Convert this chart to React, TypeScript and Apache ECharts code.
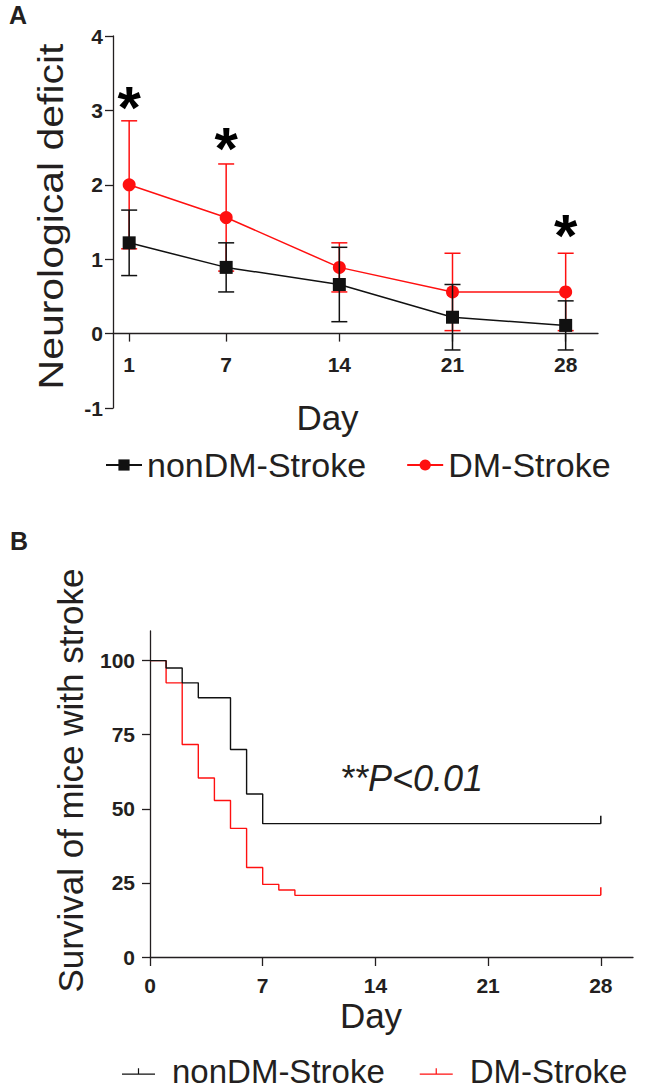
import React, { useEffect, useRef } from "react";
import * as echarts from "echarts";

// ---------- Panel A data ----------
const days = [1, 7, 14, 21, 28];
const nonDMMean = [1.22, 0.89, 0.66, 0.22, 0.11];
const nonDMSD = [0.44, 0.33, 0.5, 0.44, 0.33];
const dmMean = [2.0, 1.56, 0.89, 0.56, 0.56];
const dmSD = [0.86, 0.72, 0.33, 0.52, 0.52];
const starPoints: [number, number][] = [
  [1, 3.15],
  [7, 2.59],
  [28, 1.43],
];
const xTicksA = [1, 7, 14, 21, 28];

// ---------- Panel B data ----------
const nonDMSurvDays = [0, 1, 2, 3, 5, 6, 7, 28];
const nonDMSurv = [100, 97.5, 92.5, 87.5, 70, 55, 45, 45];
const dmSurvDays = [0, 1, 2, 3, 4, 5, 6, 7, 8, 9, 28];
const dmSurv = [100, 92.5, 71.7, 60.4, 52.8, 43.4, 30.2, 24.5, 22.6, 20.8, 20.8];
const xTicksB = [0, 7, 14, 21, 28];
const yTicksB = [0, 25, 50, 75, 100];

const seriesNames = ["nonDM-Stroke", "DM-Stroke"];
const FONT = '"Liberation Sans", Arial, Helvetica, sans-serif';
const TXT = "#231f20";
const BLACK = "#111111";
const RED = "#ff1010";

function errData(mean: number[], sd: number[]) {
  return days.map((d, i) => [d, mean[i] - sd[i], mean[i] + sd[i]]);
}

function errRender(color: string) {
  return (params: any, api: any) => {
    const x = api.value(0);
    const lo = api.coord([x, api.value(1)]);
    const hi = api.coord([x, api.value(2)]);
    const hw = 8;
    const st = { stroke: color, lineWidth: 1.5 };
    return {
      type: "group",
      children: [
        { type: "line", shape: { x1: hi[0], y1: hi[1], x2: lo[0], y2: lo[1] }, style: st },
        { type: "line", shape: { x1: hi[0] - hw, y1: hi[1], x2: hi[0] + hw, y2: hi[1] }, style: st },
        { type: "line", shape: { x1: lo[0] - hw, y1: lo[1], x2: lo[0] + hw, y2: lo[1] }, style: st },
      ],
    };
  };
}

function survData(xs: number[], ys: number[], color: string) {
  return xs.map((x, i) =>
    i === xs.length - 1
      ? { value: [x, ys[i]], symbol: "rect", symbolSize: [1.5, 8], symbolOffset: [0, -4], itemStyle: { color } }
      : [x, ys[i]]
  );
}

const tickIcon = "path://M0,5.2 L33,5.2 L33,6.5 L0,6.5 Z M15.9,0 L17.1,0 L17.1,5.2 L15.9,5.2 Z";

const axisLineStyle = { color: TXT, width: 1.3 };
const labelStyle = { fontSize: 21, fontWeight: "bold" as const, color: TXT, fontFamily: FONT };

export default function App() {
  const ref = useRef<HTMLDivElement>(null);
  useEffect(() => {
    if (!ref.current) return;
    const chart = echarts.init(ref.current, null, { renderer: "svg" });
    const option: any = {
      animation: false,
      backgroundColor: "#ffffff",
      textStyle: { fontFamily: FONT },
      grid: [
        { left: 113, right: 47, top: 36, height: 372 },
        { left: 150, right: 12, top: 631, height: 326 },
      ],
      xAxis: [
        {
          type: "value",
          gridIndex: 0,
          min: 0,
          max: 30,
          position: "bottom",
          offset: -74.4,
          axisLine: { show: true, onZero: false, lineStyle: axisLineStyle },
          axisTick: { show: true, length: 8, customValues: xTicksA, lineStyle: axisLineStyle },
          axisLabel: { ...labelStyle, margin: 20, customValues: xTicksA },
          splitLine: { show: false },
          name: "Day",
          nameLocation: "middle",
          nameGap: 66,
          nameTextStyle: { fontSize: 35, color: TXT, fontFamily: FONT, padding: [0, 56, 0, 0] },
        },
        {
          type: "value",
          gridIndex: 1,
          min: 0,
          max: 30,
          axisLine: { show: true, onZero: true, lineStyle: axisLineStyle },
          axisTick: { show: true, length: 9, customValues: xTicksB, lineStyle: axisLineStyle },
          axisLabel: { ...labelStyle, margin: 18, customValues: xTicksB },
          splitLine: { show: false },
          name: "Day",
          nameLocation: "middle",
          nameGap: 41,
          nameTextStyle: { fontSize: 35, color: TXT, fontFamily: FONT, padding: [0, 41, 0, 0] },
        },
      ],
      yAxis: [
        {
          type: "value",
          gridIndex: 0,
          min: -1,
          max: 4,
          interval: 1,
          axisLine: { show: true, onZero: false, lineStyle: axisLineStyle },
          axisTick: { show: true, length: 8, lineStyle: axisLineStyle },
          axisLabel: { ...labelStyle, margin: 10 },
          splitLine: { show: false },
        },
        {
          type: "value",
          gridIndex: 1,
          min: 0,
          max: 110,
          axisLine: { show: true, lineStyle: axisLineStyle },
          axisTick: { show: true, length: 8, customValues: yTicksB, lineStyle: axisLineStyle },
          axisLabel: { ...labelStyle, margin: 15, customValues: yTicksB },
          splitLine: { show: false },
        },
      ],
      legend: [
        {
          left: 105,
          top: 447,
          padding: 0,
          itemWidth: 36,
          itemHeight: 14,
          itemGap: 40,
          selectedMode: false,
          data: seriesNames,
          textStyle: { fontSize: 34, color: TXT, fontFamily: FONT, lineHeight: 36 },
        },
        {
          left: 122,
          top: 1055,
          padding: 0,
          itemWidth: 33,
          itemHeight: 6.5,
          itemGap: 35,
          selectedMode: false,
          itemStyle: { borderWidth: 0 },
          data: seriesNames.map((n) => ({ name: n, icon: tickIcon })),
          textStyle: { fontSize: 33, color: TXT, fontFamily: FONT, lineHeight: 28, padding: [0, 0, 0, 12] },
        },
      ],
      series: [
        {
          name: seriesNames[0],
          type: "line",
          xAxisIndex: 0,
          yAxisIndex: 0,
          data: days.map((d, i) => [d, nonDMMean[i]]),
          symbol: "rect",
          symbolSize: 13,
          lineStyle: { color: BLACK, width: 1.5 },
          itemStyle: { color: BLACK },
          z: 5,
        },
        {
          name: seriesNames[1],
          type: "line",
          xAxisIndex: 0,
          yAxisIndex: 0,
          data: days.map((d, i) => [d, dmMean[i]]),
          symbol: "circle",
          symbolSize: 13,
          lineStyle: { color: RED, width: 1.5 },
          itemStyle: { color: RED },
          z: 3,
        },
        {
          name: "DM-Stroke SD",
          type: "custom",
          xAxisIndex: 0,
          yAxisIndex: 0,
          data: errData(dmMean, dmSD),
          encode: { x: 0, y: [1, 2] },
          renderItem: errRender(RED),
          z: 2,
        },
        {
          name: "nonDM-Stroke SD",
          type: "custom",
          xAxisIndex: 0,
          yAxisIndex: 0,
          data: errData(nonDMMean, nonDMSD),
          encode: { x: 0, y: [1, 2] },
          renderItem: errRender(BLACK),
          z: 4,
        },
        {
          name: "significance",
          type: "scatter",
          xAxisIndex: 0,
          yAxisIndex: 0,
          data: starPoints,
          symbol: "circle",
          symbolSize: 1,
          itemStyle: { color: "transparent", opacity: 1 },
          label: {
            show: true,
            position: "inside",
            formatter: "*",
            fontSize: 60,
            fontWeight: "bold",
            color: "#000000",
            opacity: 1,
            textBorderWidth: 0,
            fontFamily: FONT,
            offset: [0, 8],
          },
          z: 6,
        },
        {
          name: seriesNames[1],
          type: "line",
          xAxisIndex: 1,
          yAxisIndex: 1,
          step: "end",
          symbol: "none",
          data: survData(dmSurvDays, dmSurv, RED),
          lineStyle: { color: RED, width: 1.4 },
          itemStyle: { color: RED },
          z: 2,
        },
        {
          name: seriesNames[0],
          type: "line",
          xAxisIndex: 1,
          yAxisIndex: 1,
          step: "end",
          symbol: "none",
          data: survData(nonDMSurvDays, nonDMSurv, BLACK),
          lineStyle: { color: BLACK, width: 1.4 },
          itemStyle: { color: BLACK },
          z: 3,
        },
      ],
      graphic: [
        {
          type: "text",
          x: 9,
          y: 2,
          style: { text: "A", font: `bold 25px ${FONT}`, fill: TXT, align: "left", verticalAlign: "top" },
        },
        {
          type: "text",
          x: 10,
          y: 528,
          style: { text: "B", font: `bold 25px ${FONT}`, fill: TXT, align: "left", verticalAlign: "top" },
        },
        {
          type: "text",
          x: 51.5,
          y: 216.5,
          rotation: Math.PI / 2,
          scaleX: 1.17,
          style: {
            text: "Neurological deficit",
            font: `35px ${FONT}`,
            fill: TXT,
            align: "center",
            verticalAlign: "middle",
          },
        },
        {
          type: "text",
          x: 70,
          y: 780.5,
          rotation: Math.PI / 2,
          style: {
            text: "Survival of mice with stroke",
            font: `35px ${FONT}`,
            fill: TXT,
            align: "center",
            verticalAlign: "middle",
          },
        },
        {
          type: "text",
          x: 340,
          y: 778,
          style: {
            text: "**P<0.01",
            font: `italic 36px ${FONT}`,
            fill: TXT,
            align: "left",
            verticalAlign: "middle",
          },
        },
      ],
    };
    chart.setOption(option);
    return () => chart.dispose();
  }, []);
  return (
    <div
      ref={ref}
      style={{ position: "fixed", left: 0, top: 0, width: 645, height: 1089, background: "#fff" }}
    />
  );
}
